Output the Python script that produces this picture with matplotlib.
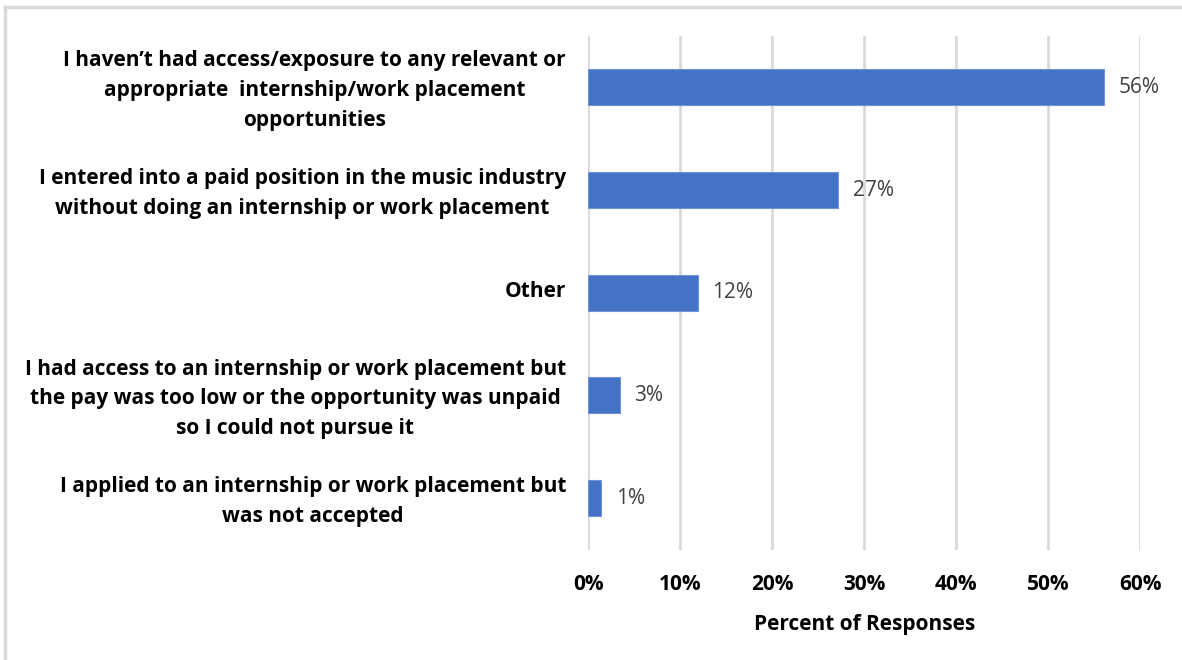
import matplotlib
matplotlib.use("Agg")
import matplotlib.pyplot as plt
import matplotlib.transforms as mtransforms
from matplotlib.lines import Line2D

categories = [
    "I haven\u2019t had access/exposure to any relevant or\nappropriate  internship/work placement\nopportunities",
    "I entered into a paid position in the music industry\nwithout doing an internship or work placement",
    "Other",
    "I had access to an internship or work placement but\nthe pay was too low or the opportunity was unpaid\nso I could not pursue it",
    "I applied to an internship or work placement but\nwas not accepted",
]
percent = [56.1, 27.2, 11.9, 3.4, 1.4]
x_ticks = [0, 10, 20, 30, 40, 50, 60]
x_label = "Percent of Responses"

plt.rcParams["font.family"] = ["Open Sans", "DejaVu Sans"]

W, H = 1182, 660
fig = plt.figure(figsize=(W / 100, H / 100), dpi=100)
ax = fig.add_axes([588.3 / W, 1 - 549.5 / H, (1140 - 588.3) / W, (549.5 - 36) / H])

bar_color = "#4472C4"
grid_color = "#D9D9D9"

ypos = list(range(len(categories)))
ax.barh(ypos, percent, height=0.35, color=bar_color, edgecolor="#6F95D8",
        linewidth=0.8, zorder=3)

ax.set_xlim(0, 60)
ax.set_ylim(len(categories) - 0.5, -0.5)

ax.set_xticks(x_ticks)
ax.set_xticklabels([f"{t}%" for t in x_ticks], fontsize=15, fontweight="bold",
                   color="#000000")
ax.tick_params(axis="x", length=0, pad=18)
ax.set_yticks(ypos)
ax.set_yticklabels(categories, fontsize=15, fontweight="bold", color="#000000",
                   ha="right", multialignment="center", linespacing=1.55)
ax.tick_params(axis="y", length=0, pad=16)

# nudge the category labels up slightly
nudge = mtransforms.ScaledTranslation(0, 3.5 / 100, fig.dpi_scale_trans)
for lbl in ax.get_yticklabels():
    lbl.set_transform(lbl.get_transform() + nudge)

ax.grid(axis="x", color=grid_color, linewidth=2, zorder=0)
for s in ax.spines.values():
    s.set_visible(False)

for y, v in zip(ypos, percent):
    ax.annotate(f"{v:.0f}%", xy=(v, y), xytext=(10.5, 0), textcoords="offset points",
                ha="left", va="center", fontsize=15, color="#404040")

ax.set_xlabel(x_label, fontsize=15, fontweight="bold", color="#000000", labelpad=13)

# chart frame
fig.add_artist(Line2D([5 / W, 1], [1 - 7 / H, 1 - 7 / H], color=grid_color, linewidth=2.5,
                      transform=fig.transFigure))
fig.add_artist(Line2D([5 / W, 5 / W], [0, 1 - 7 / H], color=grid_color, linewidth=2.5,
                      transform=fig.transFigure))

fig.savefig("out.png", dpi=100, facecolor="white")
